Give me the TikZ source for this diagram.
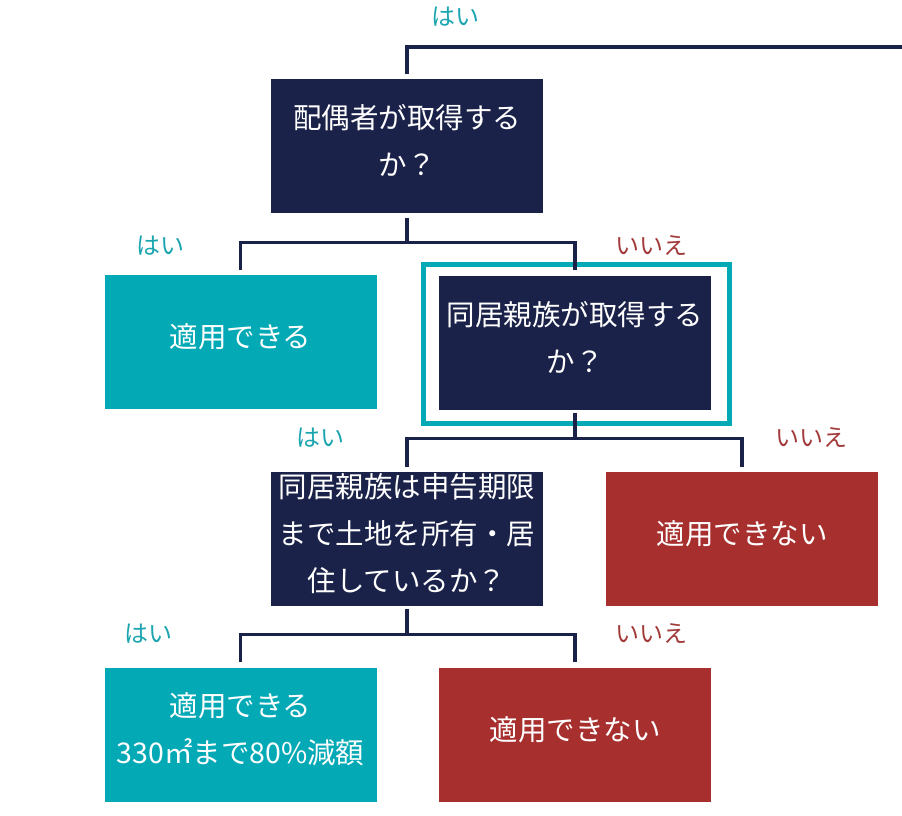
\documentclass[tikz,border=0pt]{standalone}
\usepackage{fontspec}
\setmainfont{Noto Sans CJK JP}
\newfontfamily\jpfont{Noto Sans CJK JP}
\definecolor{navy}{HTML}{1B2249}
\definecolor{tealbox}{HTML}{04A9B6}
\definecolor{redbox}{HTML}{A7302F}
\definecolor{tealtxt}{HTML}{1AA5B0}
\definecolor{redtxt}{HTML}{A23A3A}
\begin{document}
\begin{tikzpicture}[x=1pt,y=-1pt,
  box/.style={minimum width=272pt,minimum height=134pt,inner sep=0pt,align=center,text=white,text depth=12pt,font=\jpfont\fontsize{28.5}{47}\selectfont},
  navybox/.style={box,fill=navy},
  tealb/.style={box,fill=tealbox},
  redb/.style={box,fill=redbox},
  conn/.style={draw=navy,line width=3.2pt},
  yes/.style={text=tealtxt,font=\jpfont\fontsize{24}{28}\selectfont,inner sep=0pt},
  no/.style={text=redtxt,font=\jpfont\fontsize{24}{28}\selectfont,inner sep=0pt}
]
\useasboundingbox[fill=white] (0,0) rectangle (902,815);
% boxes
\node[navybox] (b1) at (407,145.5) {配偶者が取得する\\か？};
\node[tealb] (ta) at (240.5,342) {適用できる};
\node[navybox] (b2) at (575,342.5) {同居親族が取得する\\か？};
\node[draw=tealbox,line width=5pt,minimum width=306pt,minimum height=158.5pt,inner sep=0pt] (frame) at (576,344) {};
\node[navybox] (b3) at (407,538.5) {同居親族は申告期限\\まで土地を所有・居\\住しているか？};
\node[redb] (ra) at (742,538.5) {適用できない};
\node[tealb] (tb) at (240.5,734.5) {適用できる\\330㎡まで80\%減額};
\node[redb] (rb) at (575,734.5) {適用できない};
% connectors
\coordinate (topend) at (902,47);
\draw[conn,shorten <=4pt] (b1.north) |- (topend);
\draw[conn,shorten <=5pt] (b1.south) -- ++(0,30) coordinate (j1);
\draw[conn,shorten >=5pt] (j1) -| (ta.north);
\draw[conn,shorten >=5pt] (j1) -| (b2.north);
\draw[conn,shorten <=3pt] (b2.south) -- ++(0,28.5) coordinate (j2);
\draw[conn,shorten >=4pt] (j2) -| (b3.north);
\draw[conn,shorten >=4pt] (j2) -| (ra.north);
\draw[conn,shorten <=3pt] (b3.south) -- ++(0,29) coordinate (j3);
\draw[conn,shorten >=5pt] (j3) -| (tb.north);
\draw[conn,shorten >=5pt] (j3) -| (rb.north);
% labels
\node[yes] (l1) at (455,17) {はい};
\node[yes] (l2) at (160,246) {はい};
\node[no] (l3) at (651,246) {いいえ};
\node[yes] (l4) at (320,438) {はい};
\node[no] (l5) at (811,438) {いいえ};
\node[yes] (l6) at (148,634) {はい};
\node[no] (l7) at (651,634) {いいえ};
\end{tikzpicture}
\end{document}
